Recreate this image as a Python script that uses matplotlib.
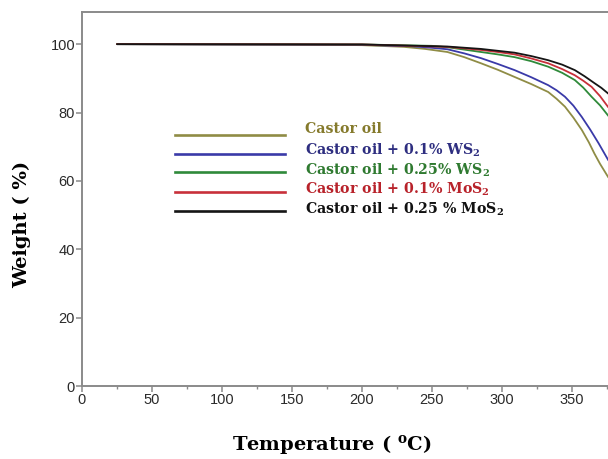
import matplotlib
matplotlib.use("Agg")
import matplotlib.pyplot as plt
from matplotlib.ticker import MultipleLocator

# Data (temperature in deg C, weight in %)
castor_T = [25, 150, 200, 230, 245, 261, 273, 285, 297, 309, 321, 333, 339, 345, 351, 357, 362, 366, 370, 376]
castor_W = [100, 99.9, 99.7, 99.2, 98.6, 97.7, 96.2, 94.4, 92.5, 90.4, 88.3, 86.0, 84.0, 81.7, 78.5, 74.9, 71.3, 68.0, 65.0, 61.0]

ws01_T = [25, 200, 235, 248, 261, 273, 285, 297, 309, 321, 333, 339, 345, 351, 357, 363, 369, 376]
ws01_W = [100, 99.8, 99.4, 99.0, 98.5, 97.3, 95.9, 94.2, 92.4, 90.3, 88.0, 86.5, 84.6, 82.0, 78.7, 75.0, 71.0, 66.0]

ws025_T = [25, 200, 250, 261, 273, 285, 297, 309, 321, 333, 343, 352, 358, 364, 370, 376]
ws025_W = [100, 99.9, 99.5, 99.1, 98.4, 97.7, 97.0, 96.2, 95.0, 93.4, 91.6, 89.5, 87.3, 84.6, 82.1, 79.0]

mos01_T = [25, 200, 261, 285, 297, 309, 321, 333, 343, 352, 358, 364, 370, 376]
mos01_W = [100, 99.9, 99.2, 98.3, 97.7, 97.0, 95.8, 94.4, 92.7, 90.9, 89.3, 87.5, 84.8, 81.5]

mos025_T = [25, 200, 261, 285, 309, 321, 333, 343, 352, 359, 366, 371, 376]
mos025_W = [100, 99.9, 99.3, 98.6, 97.5, 96.5, 95.3, 94.0, 92.4, 90.6, 88.6, 87.2, 85.5]

labels = ["Castor oil",
          "Castor oil + 0.1% WS$_\\mathbf{2}$",
          "Castor oil + 0.25% WS$_\\mathbf{2}$",
          "Castor oil + 0.1% MoS$_\\mathbf{2}$",
          "Castor oil + 0.25 % MoS$_\\mathbf{2}$"]
line_colors = ["#8f8c45", "#3a3aa8", "#2f8a3a", "#c8303a", "#151515"]
text_colors = ["#857a2c", "#2e2e80", "#2f7a30", "#b8222a", "#111111"]
series = [(castor_T, castor_W), (ws01_T, ws01_W), (ws025_T, ws025_W),
          (mos01_T, mos01_W), (mos025_T, mos025_W)]

serif = 'DejaVu Serif'
plt.rcParams['mathtext.fontset'] = 'custom'
plt.rcParams['mathtext.rm'] = serif + ':bold'
plt.rcParams['mathtext.bf'] = serif + ':bold'
plt.rcParams['mathtext.it'] = serif + ':bold'

fig = plt.figure(figsize=(6.08, 4.59), dpi=100)
ax = fig.add_axes([82/608, (459-386)/459, 526/608, 374/459])

for (t, w), c in zip(series, line_colors):
    ax.plot(t, w, color=c, lw=1.3, solid_capstyle='round', solid_joinstyle='round')

ax.set_xlim(0, 526/1.4)
ax.set_ylim(0, 109.4)
ax.xaxis.set_major_locator(MultipleLocator(50))
ax.xaxis.set_minor_locator(MultipleLocator(25))
ax.yaxis.set_major_locator(MultipleLocator(20))

spine_c = "#8a8a8a"
for s in ['left', 'bottom', 'top']:
    ax.spines[s].set_color(spine_c)
    ax.spines[s].set_linewidth(1.4)
ax.spines['right'].set_visible(False)

ax.tick_params(axis='both', which='major', direction='out', length=4, width=1.1,
               color=spine_c, labelsize=10.5, labelcolor="#2a2a2a", pad=1)
ax.tick_params(axis='x', which='minor', direction='out', length=2.5, width=1.0, color=spine_c)
for lbl in ax.get_xticklabels() + ax.get_yticklabels():
    lbl.set_family('Liberation Sans')

fig.text(332/608, 1 - 444/459, "Temperature ( $^{\\mathbf{o}}$C)", fontsize=14,
         fontweight='bold', family=serif, ha='center', va='center')
fig.text(22/608, 1 - 224/459, "Weight ( %)", fontsize=14, fontweight='bold',
         family=serif, ha='center', va='center', rotation=90)

# legend drawn manually in axes coordinates
line_y = [135, 154, 172, 192, 211]
text_base = [133, 155, 175, 194, 214]
for i, (lab, lc, tc) in enumerate(zip(labels, line_colors, text_colors)):
    yl = 1 - (line_y[i] - 12) / 374
    yt = 1 - (text_base[i] - 12) / 374
    ax.plot([(175-82)/526, (285-82)/526], [yl, yl], transform=ax.transAxes,
            color=lc, lw=1.9)
    ax.text((305-82)/526, yt, lab, transform=ax.transAxes, color=tc,
            fontsize=10.2, fontweight='bold', family=serif,
            va='baseline', ha='left')

fig.savefig("out.png", dpi=100)
